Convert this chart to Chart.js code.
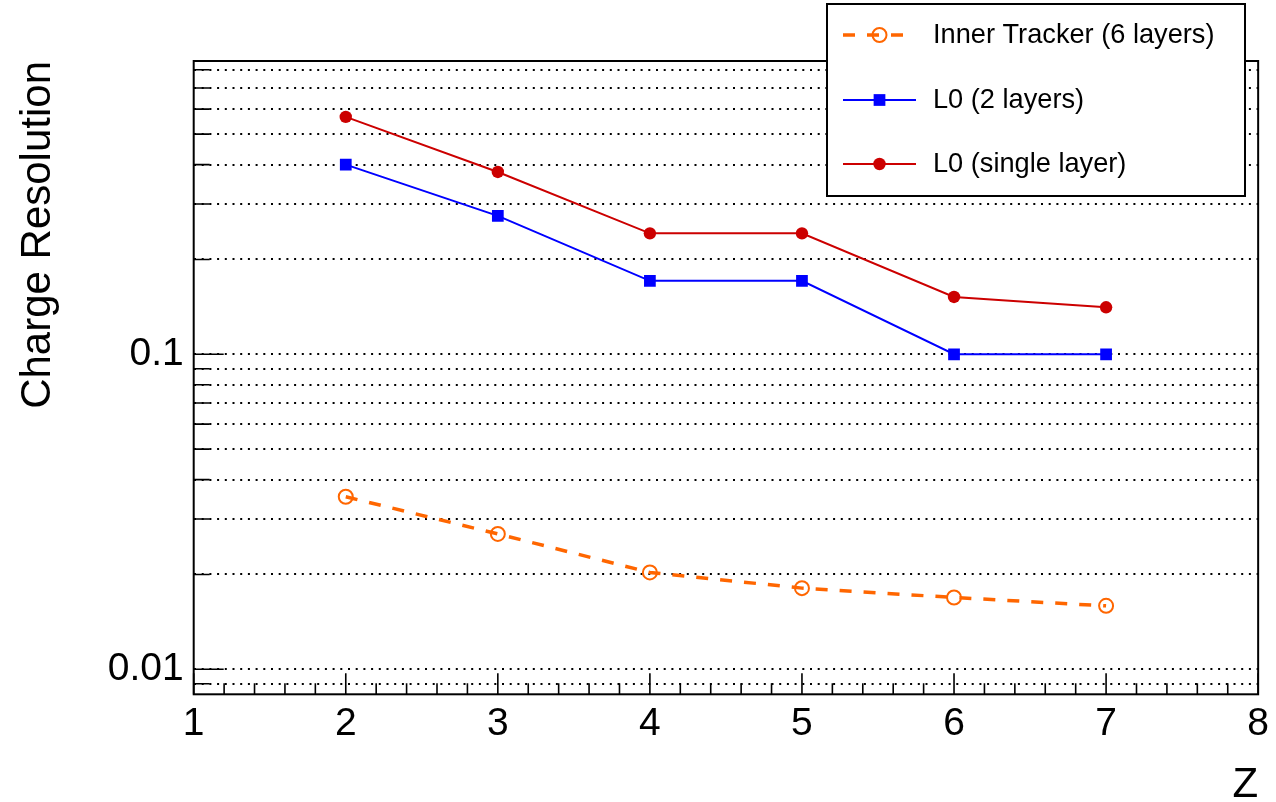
<!DOCTYPE html>
<html>
<head>
<meta charset="utf-8">
<script src="https://cdn.jsdelivr.net/npm/chart.js@4.4.1/dist/chart.umd.min.js"></script>
<style>
  body { margin: 0; background: #fff; }
  canvas { display: block; }
</style>
</head>
<body>
<canvas id="resolutionChart" width="1276" height="802"></canvas>
<script>
const chargeZ = [2, 3, 4, 5, 6, 7]
const innerTracker = [0.0353, 0.0269, 0.0203, 0.0181, 0.0169, 0.0159]
const l0TwoLayers = [0.4, 0.275, 0.171, 0.171, 0.1, 0.1]
const l0SingleLayer = [0.567, 0.379, 0.242, 0.242, 0.152, 0.141]

const xTicks = [1, 2, 3, 4, 5, 6, 7, 8]
const yGridValues = [0.009, 0.01, 0.02, 0.03, 0.04, 0.05, 0.06, 0.07, 0.08, 0.09,
                     0.1, 0.2, 0.3, 0.4, 0.5, 0.6, 0.7, 0.8]
const yTickLabels = ['0.01', '0.1']

const fontFamily = "'Liberation Sans', Arial, Helvetica, sans-serif"

function toPoints(values) {
    return chargeZ.map((z, i) => ({ x: z, y: values[i] }))
}

// ROOT style: frame box plus tick marks pointing into the plot
const frameAndTicks = {
    id: 'frameAndTicks',
    afterDatasetsDraw(chart) {
        const { ctx, chartArea: a, scales: { x, y } } = chart
        ctx.save()
        ctx.strokeStyle = '#000'
        ctx.lineWidth = 1.6
        ctx.beginPath()
        for (let v = xTicks[0]; v <= xTicks[xTicks.length - 1] + 1e-6; v += 0.2) {
            const px = x.getPixelForValue(v)
            const major = Math.abs(v - Math.round(v)) < 1e-6
            ctx.moveTo(px, a.bottom)
            ctx.lineTo(px, a.bottom - (major ? 21 : 11))
        }
        yGridValues.forEach(v => {
            const py = y.getPixelForValue(v)
            const major = yTickLabels.includes(String(v))
            ctx.moveTo(a.left, py)
            ctx.lineTo(a.left + (major ? 30 : 16), py)
        })
        ctx.stroke()
        ctx.lineWidth = 2
        ctx.strokeRect(a.left, a.top, a.right - a.left, a.bottom - a.top)
        ctx.restore()
    }
}

function drawMarker(ctx, ds, cx, cy) {
    ctx.setLineDash([])
    ctx.fillStyle = ds.pointBackgroundColor
    ctx.strokeStyle = ds.pointBorderColor || ds.borderColor
    ctx.lineWidth = ds.pointBorderWidth
    Chart.helpers.drawPoint(ctx, {
        pointStyle: ds.pointStyle,
        radius: ds.pointRadius,
        borderWidth: ds.pointBorderWidth,
        rotation: 0
    }, cx, cy)
}

// boxed legend in the top right corner, over the frame
const boxLegend = {
    id: 'boxLegend',
    afterDraw(chart) {
        const { ctx } = chart
        const box = { left: 827, top: 4, right: 1245, bottom: 196 }
        const rowY = [35, 100, 164]
        ctx.save()
        ctx.fillStyle = '#fff'
        ctx.fillRect(box.left, box.top, box.right - box.left, box.bottom - box.top)
        ctx.strokeStyle = '#000'
        ctx.lineWidth = 2
        ctx.strokeRect(box.left, box.top, box.right - box.left, box.bottom - box.top)

        chart.data.datasets.forEach((ds, i) => {
            const yy = rowY[i]
            ctx.strokeStyle = ds.borderColor
            ctx.lineWidth = ds.borderWidth
            ctx.setLineDash(ds.borderDash || [])
            ctx.beginPath()
            ctx.moveTo(843, yy)
            ctx.lineTo(ds.borderDash ? 904 : 916, yy)
            ctx.stroke()
            drawMarker(ctx, ds, 879.5, yy)

            ctx.fillStyle = '#000'
            ctx.font = `27.2px ${fontFamily}`
            ctx.textAlign = 'left'
            ctx.textBaseline = 'middle'
            ctx.fillText(ds.label, 933, yy + 1)
        })
        ctx.restore()
    }
}

const resolutionChart = new Chart(document.getElementById('resolutionChart'), {
    type: 'line',
    data: {
        datasets: [
            {
                label: 'Inner Tracker (6 layers)',
                data: toPoints(innerTracker),
                borderColor: '#ff6600',
                borderWidth: 3.5,
                borderDash: [12, 12],
                pointStyle: 'circle',
                pointRadius: 7,
                pointBorderWidth: 2,
                pointBorderColor: '#ff6600',
                pointBackgroundColor: 'rgba(255,255,255,0)'
            },
            {
                label: 'L0 (2 layers)',
                data: toPoints(l0TwoLayers),
                borderColor: '#0000ff',
                borderWidth: 2,
                pointStyle: 'rect',
                pointRadius: 8.3,
                pointBorderWidth: 0,
                pointBackgroundColor: '#0000ff'
            },
            {
                label: 'L0 (single layer)',
                data: toPoints(l0SingleLayer),
                borderColor: '#cc0000',
                borderWidth: 2,
                pointStyle: 'circle',
                pointRadius: 6.2,
                pointBorderWidth: 0,
                pointBackgroundColor: '#cc0000'
            }
        ]
    },
    options: {
        responsive: false,
        animation: false,
        layout: { padding: { left: 0, top: 61, right: 17.7, bottom: 0 } },
        plugins: {
            legend: { display: false },
            tooltip: { enabled: false }
        },
        scales: {
            x: {
                type: 'linear',
                min: 1,
                max: 8,
                afterBuildTicks: scale => { scale.ticks = xTicks.map(v => ({ value: v })) },
                afterFit: scale => { scale.height = 107.7 },
                grid: { display: false, drawTicks: false },
                border: { display: false },
                ticks: {
                    color: '#000',
                    font: { family: fontFamily, size: 39 },
                    padding: 7,
                    maxRotation: 0,
                    autoSkip: false
                },
                title: {
                    display: true,
                    text: 'Z',
                    align: 'end',
                    color: '#000',
                    font: { family: fontFamily, size: 42, lineHeight: 1 },
                    padding: { top: 0, bottom: -4 }
                }
            },
            y: {
                type: 'logarithmic',
                min: 0.00833,
                max: 0.853,
                afterBuildTicks: scale => { scale.ticks = yGridValues.map(v => ({ value: v })) },
                afterFit: scale => { scale.width = 193.7 },
                grid: { color: '#000', lineWidth: 2, drawTicks: false },
                border: { display: false, dash: [2, 5.7] },
                ticks: {
                    color: '#000',
                    font: { family: fontFamily, size: 39 },
                    padding: 10,
                    autoSkip: false,
                    callback: value => yTickLabels.includes(String(value)) ? String(value) : ''
                },
                title: {
                    display: true,
                    text: 'Charge Resolution',
                    align: 'end',
                    color: '#000',
                    font: { family: fontFamily, size: 42, lineHeight: 1 },
                    padding: { top: 17, bottom: 0 }
                }
            }
        }
    },
    plugins: [frameAndTicks, boxLegend]
})
</script>
</body>
</html>
